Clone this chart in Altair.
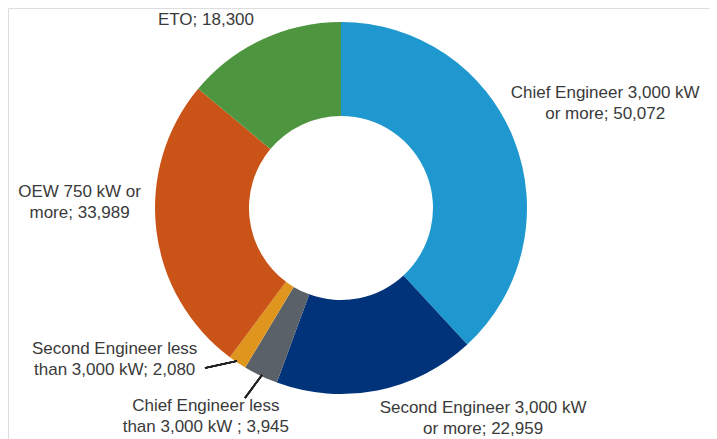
import altair as alt
import pandas as pd

# ---- data ----
categories = [
    "Chief Engineer 3,000 kW or more",
    "Second Engineer 3,000 kW or more",
    "Chief Engineer less than 3,000 kW",
    "Second Engineer less than 3,000 kW",
    "OEW 750 kW or more",
    "ETO",
]
values = [50072, 22959, 3945, 2080, 33989, 18300]
labels = [
    "Chief Engineer 3,000 kW\nor more; 50,072",
    "Second Engineer 3,000 kW\nor more; 22,959",
    "Chief Engineer less\nthan 3,000 kW ; 3,945",
    "Second Engineer less\nthan 3,000 kW; 2,080",
    "OEW 750 kW or\nmore; 33,989",
    "ETO; 18,300",
]
colors = ["#1f98cf", "#01337b", "#5a6168", "#df961e", "#ca5418", "#4e953f"]

# ---- layout (label placement: radius, dx, dy) ----
label_layout = [
    (230, 50, -31),
    (215, 100, -11),
    (232, -35, -11),
    (182, -125, -10),
    (230, -33, -43),
    (210, -46, 2),
]
CX, CY = 333, 200
R_OUT, R_IN = 186, 92
FONT = "Liberation Sans"
FS = 17
TXT = "#3a3a3a"

df = pd.DataFrame({
    "category": categories,
    "value": values,
    "label": labels,
    "idx": list(range(len(categories))),
})
total = sum(values)
theta_scale = alt.Scale(domain=[0, total], range=[0, 6.283185307179586])

arc = alt.Chart(df).mark_arc(outerRadius=R_OUT, innerRadius=R_IN).encode(
    theta=alt.Theta("value:Q", stack=True, scale=theta_scale),
    order=alt.Order("idx:O"),
    color=alt.Color("category:N", scale=alt.Scale(domain=categories, range=colors), legend=None),
    x=alt.value(CX),
    y=alt.value(CY),
)

layers = [arc]
for i, (r, dx, dy) in enumerate(label_layout):
    t = (
        alt.Chart(df)
        .transform_window(cum="sum(value)", sort=[alt.SortField("idx")], frame=[None, 0])
        .transform_calculate(mid="datum.cum - datum.value / 2")
        .transform_filter(alt.datum.idx == i)
        .mark_text(radius=r, dx=dx, dy=dy, font=FONT, fontSize=FS, color=TXT,
                   align="center", baseline="middle", lineBreak="\n", lineHeight=21)
        .encode(
            theta=alt.Theta("mid:Q", stack=None, scale=theta_scale),
            text="label:N",
            x=alt.value(CX),
            y=alt.value(CY),
        )
    )
    layers.append(t)

lead1 = alt.Chart(df).mark_rule(color="#222222", strokeWidth=1.5).encode(
    x=alt.value(197), y=alt.value(360), x2=alt.value(229), y2=alt.value(353)
)
lead2 = alt.Chart(df).mark_rule(color="#222222", strokeWidth=1.5).encode(
    x=alt.value(237), y=alt.value(390), x2=alt.value(254), y2=alt.value(367)
)
layers += [lead1, lead2]

chart = alt.layer(*layers).properties(
    width=701, height=431, padding=0, autosize=alt.AutoSizeParams(type="none")
).configure_view(stroke=None).configure(background="white")

chart.save("out.html", embed_options={"renderer": "svg", "actions": False})
